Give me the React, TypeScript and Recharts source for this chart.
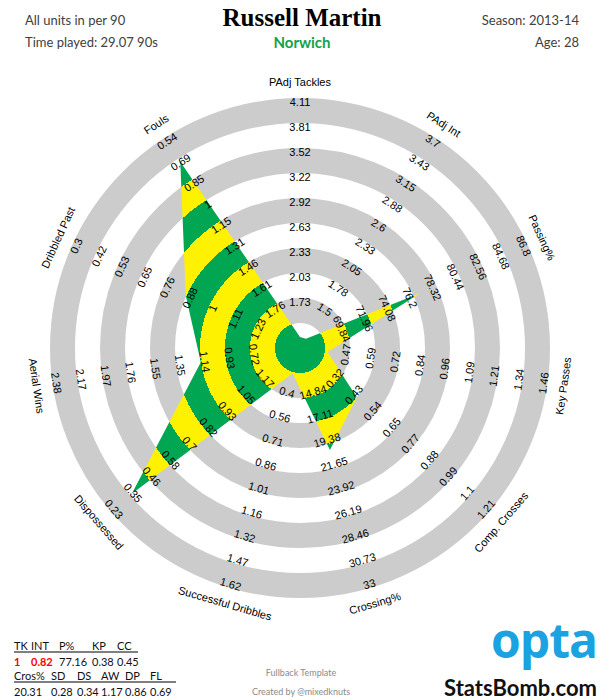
import React from 'react'
import { RadarChart, Radar, PolarGrid, PolarAngleAxis, PolarRadiusAxis } from 'recharts'

const metrics = [
  'PAdj Tackles', 'PAdj Int', 'Passing%', 'Key Passes', 'Comp. Crosses', 'Crossing%',
  'Successful Dribbles', 'Dispossessed', 'Aerial Wins', 'Dribbled Past', 'Fouls',
]
const shortNames = ['TK', 'INT', 'P%', 'KP', 'CC', 'Cros%', 'SD', 'DS', 'AW', 'DP', 'FL']
const values = [1, 0.82, 77.16, 0.38, 0.45, 20.31, 0.28, 0.34, 1.17, 0.86, 0.69]

// tick labels along each spoke, innermost first
const tickLabels = [
  ['1.73', '2.03', '2.33', '2.63', '2.92', '3.22', '3.52', '3.81', '4.11'],
  ['1.5', '1.78', '2.05', '2.33', '2.6', '2.88', '3.15', '3.43', '3.7'],
  ['69.84', '71.96', '74.08', '76.2', '78.32', '80.44', '82.56', '84.68', '86.8'],
  ['0.47', '0.59', '0.72', '0.84', '0.96', '1.09', '1.21', '1.34', '1.46'],
  ['0.32', '0.43', '0.54', '0.65', '0.77', '0.88', '0.99', '1.1', '1.21'],
  ['14.84', '17.11', '19.38', '21.65', '23.92', '26.19', '28.46', '30.73', '33'],
  ['0.4', '0.56', '0.71', '0.86', '1.01', '1.16', '1.32', '1.47', '1.62'],
  ['1.17', '1.05', '0.93', '0.82', '0.7', '0.58', '0.46', '0.35', '0.23'],
  ['0.72', '0.93', '1.14', '1.35', '1.55', '1.76', '1.97', '2.17', '2.38'],
  ['1.23', '1.11', '1', '0.88', '0.76', '0.65', '0.53', '0.42', '0.3'],
  ['1.76', '1.61', '1.46', '1.31', '1.15', '1', '0.85', '0.69', '0.54'],
]

const CX = 300
const CY = 348
const R = 250
const RING = 25
const GREEN = '#00A651'
const YELLOW = '#FFF200'
const FONT = '"Liberation Sans", Arial, sans-serif'

// ring position of a value on its spoke (first tick label sits on ring 2)
function ringPos(v: number, ticks: string[]) {
  const lo = parseFloat(ticks[0])
  const hi = parseFloat(ticks[ticks.length - 1])
  return 2 + (v - lo) / ((hi - lo) / 8)
}

// values under the axis range get pinned just off the centre, like the original
const data = metrics.map((m, i) => ({
  metric: m,
  r: Math.max(ringPos(values[i], tickLabels[i]) * RING - 4, 11),
}))

const belowRange = values.map((v, i) => ringPos(v, tickLabels[i]) < 0.6)

function AxisTick(props: any) {
  const i = metrics.indexOf(props.payload.value)
  const a = (i * 360) / metrics.length
  const rad = (a * Math.PI) / 180
  const rot = a > 90 && a < 270 ? a - 180 : a >= 270 ? a - 360 : a
  const at = (r: number) => [CX + r * Math.sin(rad), CY - r * Math.cos(rad)]
  const [nx, ny] = at(266)
  return (
    <g>
      <text x={nx} y={ny} transform={`rotate(${rot} ${nx} ${ny})`} textAnchor="middle"
        dominantBaseline="central" fontSize={11} fontFamily={FONT} fill="#000">
        {metrics[i]}
      </text>
      {tickLabels[i].map((t, k) => {
        const [x, y] = at((k + 2) * RING - 4)
        return (
          <text key={k} x={x} y={y} transform={`rotate(${rot} ${x} ${y})`} textAnchor="middle"
            dominantBaseline="central" fontSize={11} fontFamily={FONT} fill="#000">
            {t}
          </text>
        )
      })}
    </g>
  )
}

function Txt({ x, y, align = 'left', size = 13, color = '#404040', weight = 400, family, children }: any) {
  const tx = align === 'center' ? '-50%' : align === 'right' ? '-100%' : '0'
  return (
    <div style={{
      position: 'absolute', left: x, top: y, transform: `translate(${tx}, -50%)`,
      fontSize: size, color, fontWeight: weight, fontFamily: family, whiteSpace: 'nowrap', lineHeight: 1,
    }}>
      {children}
    </div>
  )
}

const topCols = [14, 31, 59, 92, 117]
const bottomCols = [14, 51, 77, 101, 125, 150]

export default function App() {
  const stops: React.ReactElement[] = []
  for (let m = 0; m < 10; m++) {
    const c = m % 2 === 0 ? GREEN : YELLOW
    stops.push(<stop key={`a${m}`} offset={m / 10} stopColor={c} />)
    stops.push(<stop key={`b${m}`} offset={(m + 1) / 10} stopColor={c} />)
  }

  return (
    <div style={{ position: 'absolute', left: 0, top: 0, width: 600, height: 700, background: '#fff', overflow: 'hidden', fontFamily: 'Lato, sans-serif' }}>
      <div style={{ position: 'absolute', left: 0, top: 0 }}>
        <RadarChart width={600} height={700} data={data} cx={CX} cy={CY} outerRadius={R} margin={{ top: 0, right: 0, bottom: 0, left: 0 }}>
          <defs>
            <radialGradient id="bands" gradientUnits="userSpaceOnUse" cx={CX} cy={CY} r={R}>
              {stops}
            </radialGradient>
          </defs>
          <PolarGrid gridType="circle" radialLines={false} polarRadius={[37.5, 87.5, 137.5, 187.5, 237.5]}
            stroke="#cccccc" strokeWidth={25} fill="none" />
          <PolarRadiusAxis domain={[0, R]} type="number" tick={false} axisLine={false} />
          <Radar dataKey="r" fill="url(#bands)" fillOpacity={1} stroke="none" dot={false} isAnimationActive={false} />
          <PolarAngleAxis dataKey="metric" tick={(p: any) => <AxisTick {...p} />} axisLine={false} tickLine={false} />
        </RadarChart>
      </div>

      <Txt x={25} y={20}>All units in per 90</Txt>
      <Txt x={25} y={42}>Time played: 29.07 90s</Txt>
      <Txt x={579} y={20} align="right">Season: 2013-14</Txt>
      <Txt x={579} y={42} align="right">Age: 28</Txt>
      <Txt x={302} y={17} align="center" size={25} color="#000" weight={700} family='"Liberation Serif", serif'>Russell Martin</Txt>
      <Txt x={302} y={42} align="center" size={15} color="#12A24B" weight={700}>Norwich</Txt>

      {shortNames.slice(0, 5).map((s, i) => (
        <Txt key={s} x={topCols[i]} y={645} size={11} color="#111">{s}</Txt>
      ))}
      <div style={{ position: 'absolute', left: 14, top: 651, width: 124, height: 2, background: '#7f7f7f' }} />
      {values.slice(0, 5).map((v, i) => (
        <Txt key={i} x={topCols[i]} y={661} size={11} color={belowRange[i] ? '#ff0000' : '#111'} weight={belowRange[i] ? 700 : 400}>{String(v)}</Txt>
      ))}
      {shortNames.slice(5).map((s, i) => (
        <Txt key={s} x={bottomCols[i]} y={675} size={11} color="#111">{s}</Txt>
      ))}
      <div style={{ position: 'absolute', left: 14, top: 681, width: 162, height: 2, background: '#7f7f7f' }} />
      {values.slice(5).map((v, i) => (
        <Txt key={i} x={bottomCols[i]} y={691} size={11} color={belowRange[i + 5] ? '#ff0000' : '#111'}>{String(v)}</Txt>
      ))}

      <Txt x={301} y={672} align="center" size={9} color="#8a8a8a">Fullback Template</Txt>
      <Txt x={301} y={691} align="center" size={9} color="#8a8a8a">Created by @mixedknuts</Txt>

      <Txt x={597} y={640} align="right" size={48} color="#1AA3E0" weight={700} family='"Open Sans", sans-serif'>
        <span style={{ letterSpacing: -1 }}>opta</span>
      </Txt>
      <Txt x={597} y={688} align="right" size={22} color="#111" weight={700}>StatsBomb.com</Txt>
    </div>
  )
}
